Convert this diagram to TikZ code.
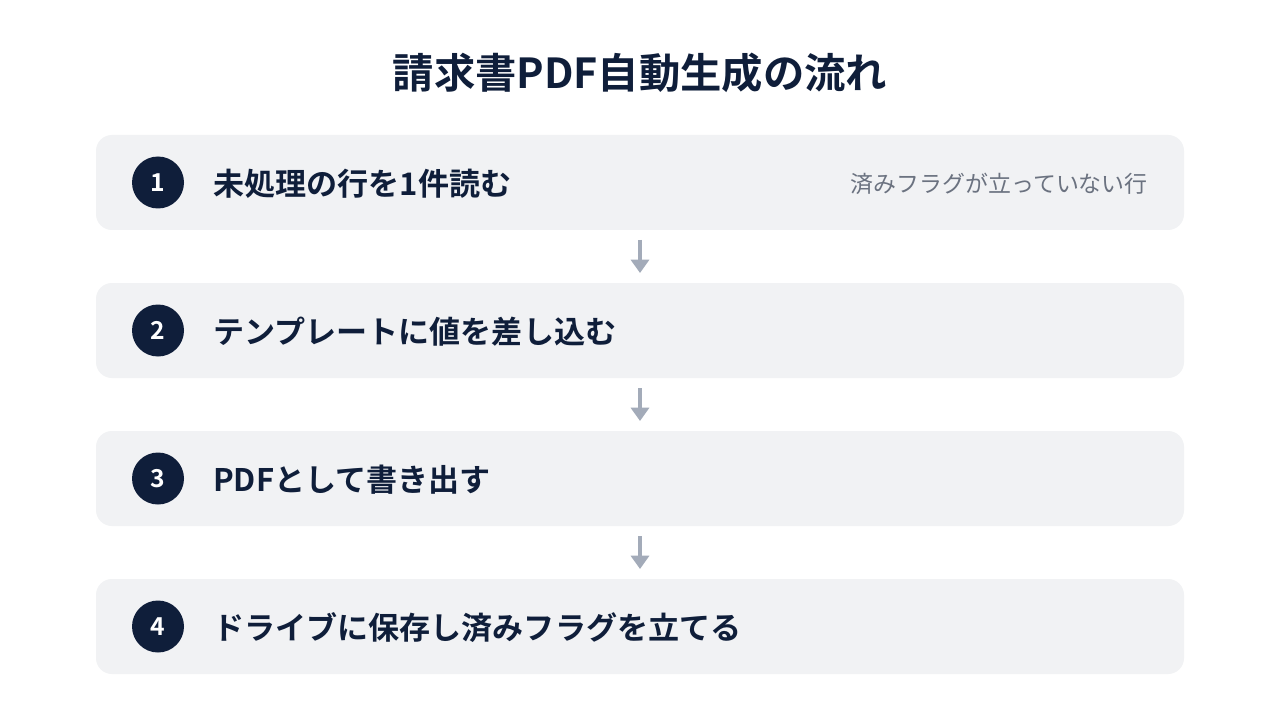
\documentclass[tikz,border=0pt]{standalone}
\usepackage{fontspec}
\setmainfont{Noto Sans CJK JP}
\newfontfamily\jpbold{Noto Sans CJK JP Bold}
\usetikzlibrary{arrows.meta}
\definecolor{navy}{HTML}{0F1E3A}
\definecolor{boxbg}{HTML}{F1F2F4}
\definecolor{notegray}{HTML}{6B7280}
\definecolor{arrowgray}{HTML}{A3ABB9}
\tikzset{
  stepbox/.style={fill=boxbg, rounded corners=12pt, draw=none},
  numcirc/.style={circle, fill=navy, minimum size=39pt, inner sep=0pt, text=white, font=\jpbold\fontsize{18.5}{20}\selectfont},
  steptext/.style={anchor=west, text=navy, inner sep=0pt, font=\jpbold\fontsize{23.3}{26}\selectfont},
  notetext/.style={anchor=east, text=notegray, inner sep=0pt, font=\fontsize{17.2}{20}\selectfont},
  flowarrow/.style={draw=arrowgray, line width=3pt, -{Triangle[length=10pt,width=13.5pt]}}
}
\begin{document}
\begin{tikzpicture}[x=0.75pt,y=-0.75pt]
\useasboundingbox[fill=white] (0,0) rectangle (1280,720);
\node[text=navy, font=\jpbold\fontsize{31}{34}\selectfont] (title) at (640,73) {請求書PDF自動生成の流れ};
% boxes
\path[stepbox] (96,135) rectangle (1184,230);
\path[stepbox] (96,283) rectangle (1184,378);
\path[stepbox] (96,431) rectangle (1184,526);
\path[stepbox] (96,579) rectangle (1184,674);
\node[numcirc] (n1) at (158,182.5) {1};
\node[numcirc] (n2) at (158,330.5) {2};
\node[numcirc] (n3) at (158,478.5) {3};
\node[numcirc] (n4) at (158,626.5) {4};
\node[steptext] (t1) at (213,184) {未処理の行を1件読む};
\node[steptext] (t2) at (213,332) {テンプレートに値を差し込む};
\node[steptext] (t3) at (213,480) {PDFとして書き出す};
\node[steptext] (t4) at (213,628) {ドライブに保存し済みフラグを立てる};
\node[notetext] (note1) at (1148,184) {済みフラグが立っていない行};
\coordinate (a1s) at (640,240); \coordinate (a1e) at (640,273);
\coordinate (a2s) at (640,388); \coordinate (a2e) at (640,421);
\coordinate (a3s) at (640,536); \coordinate (a3e) at (640,569);
\draw[flowarrow] (a1s) -- (a1e);
\draw[flowarrow] (a2s) -- (a2e);
\draw[flowarrow] (a3s) -- (a3e);
\end{tikzpicture}
\end{document}
